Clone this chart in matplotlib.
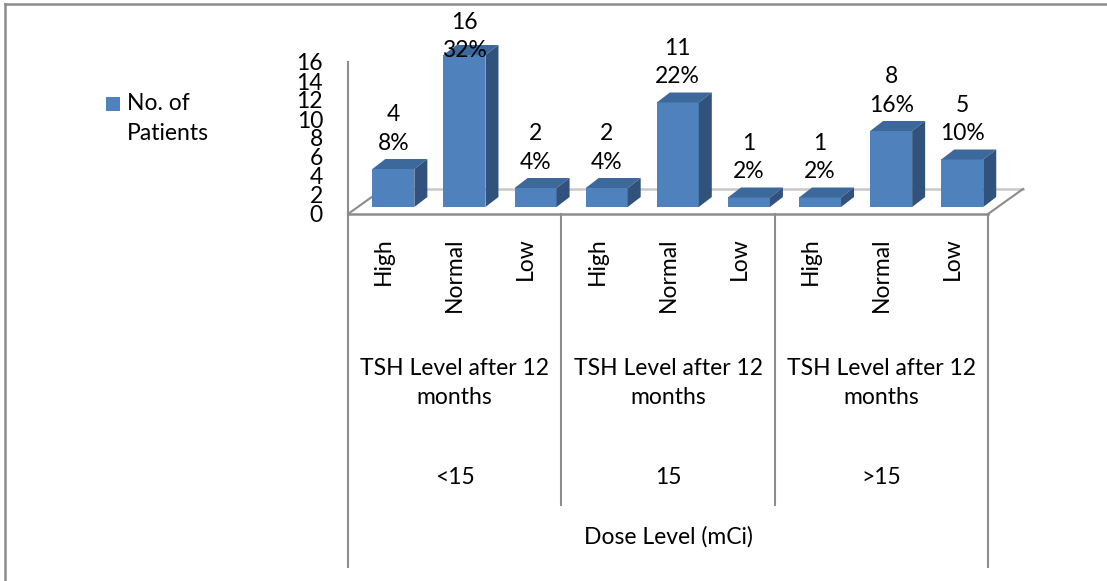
import matplotlib
matplotlib.use("Agg")
import numpy as np
from matplotlib import pyplot as plt
from matplotlib.patches import Polygon, Rectangle
from matplotlib.transforms import blended_transform_factory

# data
tsh_levels = ["High", "Normal", "Low"]
dose_groups = ["<15", "15", ">15"]
group_title = "TSH Level after 12\nmonths"
outer_title = "Dose Level (mCi)"
patients = [4, 16, 2, 2, 11, 1, 1, 8, 5]
percents = ["8%", "32%", "4%", "4%", "22%", "2%", "2%", "16%", "10%"]
series_name = "No. of\nPatients"

plt.rcParams['font.family'] = ['Lato', 'DejaVu Sans']
FS = 16.5

W, H = 1107, 581
fig = plt.figure(figsize=(W / 100, H / 100), dpi=100)

def fx(px):
    return px / W

def fy(py):
    return 1 - py / H

# plot area: front floor edge at y=214, value 16 at y=62, x from 348 to 988
ax = fig.add_axes([fx(348), fy(214), fx(988 - 348), fy(62) - fy(214)])
ax.set_xlim(-0.5, 8.5)
ax.set_ylim(0, 16)
ppx = (988 - 348) / 9.0   # pixels per category
ppy = (214 - 62) / 16.0   # pixels per unit

for s in ["top", "right", "bottom"]:
    ax.spines[s].set_visible(False)
ax.spines["left"].set_color("#8c8c8c")
ax.spines["left"].set_linewidth(1.5)
ax.set_xticks([])
ax.set_yticks(range(0, 17, 2))
ax.tick_params(axis="y", length=0, pad=18, labelsize=FS)

grey = "#8c8c8c"
# floor (pseudo 3D)
fdx, fdy = 35 / ppx, 25 / ppy
ax.plot([-0.5, 8.5], [0, 0], color=grey, lw=1.8, clip_on=False, zorder=1)
ax.plot([-0.5 + fdx, 8.5 + fdx], [fdy, fdy], color="#c8c8c8", lw=1.8, clip_on=False, zorder=0)
ax.plot([-0.5, -0.5 + fdx], [0, fdy], color=grey, lw=1.5, clip_on=False, zorder=0)
ax.plot([8.5, 8.5 + fdx], [0, fdy], color=grey, lw=1.5, clip_on=False, zorder=1)

# bars
f = 0.28
bx, by = f * fdx, f * fdy
bdx, bdy = 13 / ppx, 10 / ppy
w = 42 / ppx
x = np.arange(len(patients))
front = "#4f81bd"
top_c = "#3d689b"
side_c = "#30527c"
bars = ax.bar(x + bx, patients, width=w, bottom=by, color=front, zorder=3, clip_on=False)
for b in bars:
    x0, y0 = b.get_x(), b.get_y()
    bw, bh = b.get_width(), b.get_height()
    top = Polygon([(x0, y0 + bh), (x0 + bw, y0 + bh), (x0 + bw + bdx, y0 + bh + bdy),
                   (x0 + bdx, y0 + bh + bdy)], closed=True, fc=top_c, ec="none",
                  zorder=3, clip_on=False)
    side = Polygon([(x0 + bw, y0), (x0 + bw + bdx, y0 + bdy), (x0 + bw + bdx, y0 + bh + bdy),
                    (x0 + bw, y0 + bh)], closed=True, fc=side_c, ec="none",
                   zorder=3, clip_on=False)
    ax.add_patch(top)
    ax.add_patch(side)

# data labels
cap = (214 - 36.5) / ppy
for xi, v, p in zip(x, patients, percents):
    yc = min(by + v + 40 / ppy, cap)
    ax.text(xi + bx, yc, f"{v}\n{p}", ha="center", va="center", fontsize=FS,
            linespacing=1.45, zorder=5, clip_on=False)

# category table under the axis
tr = blended_transform_factory(ax.transData, fig.transFigure)
for i in x:
    ax.text(i, fy(237), tsh_levels[i % 3], rotation=90, ha="center", va="top",
            fontsize=FS, transform=tr)
for g, name in enumerate(dose_groups):
    c = 3 * g + 1
    ax.text(c, fy(383), group_title, ha="center", va="center", fontsize=FS,
            linespacing=1.45, transform=tr)
    ax.text(c, fy(477), name, ha="center", va="center", fontsize=FS, transform=tr)
ax.text(4, fy(537), outer_title, ha="center", va="center", fontsize=FS, transform=tr)

for xs in [2.5, 5.5]:
    ax.plot([xs, xs], [fy(214), fy(505)], color=grey, lw=1.5, transform=tr, clip_on=False)
for xs in [-0.5, 8.5]:
    ax.plot([xs, xs], [fy(214), fy(567)], color=grey, lw=1.5, transform=tr, clip_on=False)

# legend
fig.patches.append(Rectangle((fx(106), fy(111)), fx(14), fy(97) - fy(111),
                             transform=fig.transFigure, fc=front, ec="none"))
fig.text(fx(127), fy(104), "No. of", ha="left", va="center", fontsize=FS)
fig.text(fx(127), fy(133), "Patients", ha="left", va="center", fontsize=FS)

# chart frame
fig.add_artist(plt.Line2D([fx(5), 1], [fy(4), fy(4)], color="#8c8c8c", lw=1.8))
fig.add_artist(plt.Line2D([fx(5), fx(5)], [fy(4), 0], color="#8c8c8c", lw=1.8))

fig.savefig("out.png", dpi=100)
